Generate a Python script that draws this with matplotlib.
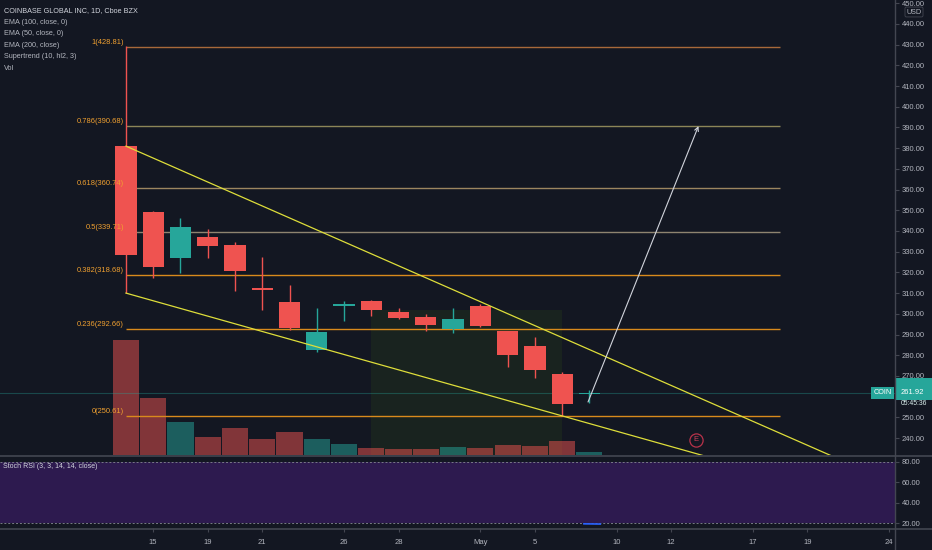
import matplotlib
matplotlib.use("Agg")
import matplotlib.pyplot as plt
from matplotlib.lines import Line2D
from matplotlib.patches import Rectangle
from matplotlib.transforms import blended_transform_factory

plt.rcParams['font.family'] = ['Liberation Sans', 'DejaVu Sans']

bg = '#131722'
txt_c = '#b2b5be'
line_c = '#434651'
up_c = '#26a69a'
down_c = '#ef5350'

# daily candles, COIN from Apr 14 (index 0)
opens = [381.0, 349.2, 327.0, 337.1, 333.2, 312.6, 305.7, 282.5, 304.0, 306.2, 300.9, 298.5, 292.7, 303.8, 291.7, 284.4, 270.9, 261.3]
highs = [429.5, 349.5, 346.3, 341.0, 334.7, 327.4, 314.0, 303.0, 306.0, 306.5, 302.8, 300.0, 302.8, 304.7, 291.9, 288.8, 271.9, 263.2]
lows = [310.0, 317.3, 319.7, 327.0, 311.0, 302.0, 292.0, 281.6, 296.5, 299.0, 297.5, 291.7, 290.7, 293.8, 274.3, 269.0, 250.6, 256.9]
closes = [328.3, 322.6, 342.0, 332.8, 320.7, 311.6, 293.1, 291.2, 304.5, 301.8, 298.0, 294.6, 297.5, 294.1, 280.1, 272.8, 256.4, 261.92]
volumes = [81.1, 40.2, 23.5, 12.5, 19.0, 11.3, 16.0, 11.1, 7.8, 5.1, 4.0, 4.0, 5.4, 4.7, 7.1, 6.3, 9.7, 2.1]

tick_pos = [1, 3, 5, 8, 10, 13, 15, 18, 20, 23, 25, 28]
tick_labels = ['15', '19', '21', '26', '28', 'May', '5', '10', '12', '17', '19', '24']

fib_ratios = ['1', '0.786', '0.618', '0.5', '0.382', '0.236', '0']
fib_levels = [428.81, 390.68, 360.74, 339.71, 318.68, 292.66, 250.61]
fib_colors = ['#a8693a', '#8c8658', '#9c8660', '#8e8470', '#d98a1c', '#d98a1c', '#d98a1c']
fib_span = (0, 24)

upper_line = ([0, 26], [381.0, 230.7])
lower_line = ([0, 21.5], [310.0, 230.3])
arrow_from = (16.95, 257.4)
arrow_to = (21, 390.68)
box_span = (9, 16)
box_top = 301.8
earnings_idx = 21

stoch_x = [16.8, 17.4]
stoch_k = [19.2, 19.0]

legend_lines = ['COINBASE GLOBAL INC, 1D, Cboe BZX', 'EMA (100, close, 0)', 'EMA (50, close, 0)',
                'EMA (200, close)', 'Supertrend (10, hl2, 3)', 'Vol']

W, H = 932, 550
fig = plt.figure(figsize=(W / 100, H / 100), dpi=100, facecolor=bg)
scale_x = 895 / W
ax = fig.add_axes([0, 1 - 455 / H, scale_x, 455 / H], facecolor=bg)
ax2 = fig.add_axes([0, 1 - 528 / H, scale_x, 71 / H], facecolor=bg, sharex=ax)

x_lo, x_hi = -4.62, 28.21
y_lo, y_hi = 231.79, 451.59
ax.set_xlim(x_lo, x_hi)
ax.set_ylim(y_lo, y_hi)
ax2.set_ylim(15.1, 84.9)

xy_blend = blended_transform_factory(ax.transData, ax.transAxes)

# shaded box
ax.add_patch(Rectangle((box_span[0], y_lo), box_span[1] - box_span[0], box_top - y_lo,
                       facecolor='#19231f', edgecolor='none', zorder=0.5))

# volume
vol_axis_max = 320.9
for i, v in enumerate(volumes):
    c = up_c if closes[i] >= opens[i] else down_c
    ax.add_patch(Rectangle((i - 0.48, 0), 0.96, v / vol_axis_max, transform=xy_blend,
                           facecolor=c, alpha=0.5, edgecolor='none', zorder=1))

# fib retracement
ax.hlines(fib_levels, fib_span[0], fib_span[1], colors=fib_colors, lw=1.0, zorder=2)
for r, lvl in zip(fib_ratios, fib_levels):
    ax.annotate(f'{r}({lvl:.2f})', xy=(fib_span[0], lvl), xytext=(-1.5, 3.2),
                textcoords='offset points', ha='right', va='center',
                color='#f0a030', fontsize=5.4, zorder=6)

# current price line
ax.axhline(closes[-1], color=up_c, alpha=0.35, lw=0.8, zorder=1.5)

# candles
for i in range(len(opens)):
    o, h, l, c = opens[i], highs[i], lows[i], closes[i]
    col = up_c if c >= o else down_c
    ax.vlines(i, l, h, color=col, lw=1.0, zorder=3)
    ax.add_patch(Rectangle((i - 0.39, min(o, c)), 0.78, max(abs(c - o), 0.5),
                           facecolor=col, edgecolor='none', zorder=3.5))

# trend lines
ax.plot(upper_line[0], upper_line[1], color='#dede3a', lw=0.9, zorder=4)
ax.plot(lower_line[0], lower_line[1], color='#dede3a', lw=0.9, zorder=4)

ax.annotate('', xy=arrow_to, xytext=arrow_from,
            arrowprops=dict(arrowstyle='->', color='#d1d4dc', lw=0.8,
                            shrinkA=0, shrinkB=0, mutation_scale=7), zorder=5)

# earnings marker
ax.plot(earnings_idx - 0.1, 0.033, marker='o', ms=9.5, mfc='none', mec='#b8324a',
        mew=0.9, transform=xy_blend, zorder=5)
ax.text(earnings_idx - 0.1, 0.033, 'E', color='#d0405a', fontsize=5.5, ha='center',
        va='center', transform=xy_blend, zorder=5)

# legend text
for k, s in enumerate(legend_lines):
    fig.text(4 / W, 1 - (11 + k * 11.4) / H, s, color='#d1d4dc' if k == 0 else txt_c,
             fontsize=5.2, ha='left', va='center')

# price scale
ax.yaxis.tick_right()
ax.set_yticks([v for v in range(240, 451, 10) if v != 260])
ax.set_yticklabels([f'{v:.2f}' for v in range(240, 451, 10) if v != 260])
ax.tick_params(axis='y', colors=line_c, labelcolor=txt_c, labelsize=5.5, length=3, pad=2)
ax.tick_params(axis='x', bottom=False, labelbottom=False)
for s in ax.spines.values():
    s.set_visible(False)

yb = blended_transform_factory(ax.transAxes, ax.transData)
ax.text(0.996, closes[-1], 'COIN', transform=yb, ha='right', va='center', color='white',
        fontsize=5.2, zorder=7, clip_on=False,
        bbox=dict(boxstyle='square,pad=0.35', fc=up_c, ec='none'))
ax.add_patch(Rectangle((1.0, closes[-1] - 3.6), 37 / 895, 10.9, transform=yb,
                       facecolor=up_c, edgecolor='none', clip_on=False, zorder=7))
ax.text(1.006, closes[-1], f'{closes[-1]:.2f}', transform=yb, ha='left', va='center',
        color='white', fontsize=5.5, zorder=8, clip_on=False)
ax.text(1.006, closes[-1] - 5.1, '05:45:36', transform=yb, ha='left', va='center',
        color='#dff5f2', fontsize=4.9, zorder=8, clip_on=False)
fig.text(914 / W, 1 - 12 / H, 'USD', color=txt_c, fontsize=5.2, ha='center', va='center',
         bbox=dict(boxstyle='round,pad=0.2', fc=bg, ec=line_c, lw=0.6))

# stoch rsi pane
ax2.axhspan(20, 80, color='#2d1a4f', lw=0, zorder=0)
ax2.axhline(80, color='#787b86', lw=0.7, ls=(0, (2, 2)), zorder=1)
ax2.axhline(20, color='#787b86', lw=0.7, ls=(0, (2, 2)), zorder=1)
ax2.plot(stoch_x, stoch_k, color='#2962ff', lw=1.2, zorder=2)
ax2.text(3 / 895, 0.86, 'Stoch RSI (3, 3, 14, 14, close)', transform=ax2.transAxes,
         color='#d1d4dc', fontsize=5, ha='left', va='center')
ax2.yaxis.tick_right()
ax2.set_yticks([20, 40, 60, 80])
ax2.set_yticklabels(['20.00', '40.00', '60.00', '80.00'])
ax2.tick_params(axis='y', colors=line_c, labelcolor=txt_c, labelsize=5.5, length=3, pad=2)
ax2.set_xticks(tick_pos)
ax2.set_xticklabels(tick_labels)
ax2.tick_params(axis='x', colors=line_c, labelcolor=txt_c, labelsize=5.5, length=3, pad=5)
for s in ax2.spines.values():
    s.set_visible(False)

# pane separators and price-scale border
for yy in (455.5, 528.5):
    fig.add_artist(Line2D([0, 1], [1 - yy / H] * 2, transform=fig.transFigure, color=line_c, lw=1.2))
fig.add_artist(Line2D([scale_x, scale_x], [0, 1], transform=fig.transFigure, color=line_c, lw=1.0))

fig.savefig('out.png', dpi=100, facecolor=bg)
